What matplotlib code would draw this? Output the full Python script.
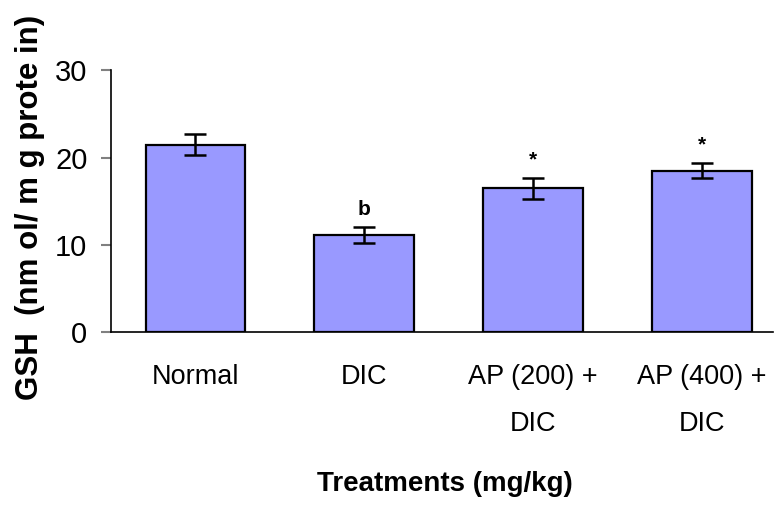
import matplotlib
matplotlib.use("Agg")
import matplotlib.pyplot as plt

# valores
tratamientos = ["Normal", "DIC", "AP (200) +\nDIC", "AP (400) +\nDIC"]
gsh = [21.5, 11.1, 16.5, 18.5]
error = [1.2, 0.9, 1.2, 0.85]
marcas = ["", "b", "*", "*"]

plt.rcParams['font.family'] = ['Liberation Sans', 'DejaVu Sans']

fig = plt.figure(figsize=(7.74, 5.07), dpi=100)
ax = fig.add_axes([0.1434, 0.345, 0.855, 0.516])

x = range(len(tratamientos))
ax.bar(x, gsh, width=0.59, color='#9999FF', edgecolor='black', linewidth=1.6,
       yerr=error, capsize=8, error_kw=dict(elinewidth=1.8, capthick=1.8, ecolor='black'))

for i, (v, e, m) in enumerate(zip(gsh, error, marcas)):
    if m:
        ax.text(i, v + e + 1.0, m, ha='center', va='bottom', fontsize=15,
                fontweight='bold')

ax.set_ylim(0, 30)
ax.set_xlim(-0.5, 3.42)
ax.set_yticks([0, 10, 20, 30])
ax.set_xticks(list(x))
ax.set_xticklabels(tratamientos, fontsize=19.5, linespacing=2.05)
ax.tick_params(axis='y', labelsize=21, length=7, width=1.5, color='#808080', direction='out', pad=10)
ax.tick_params(axis='x', length=0, pad=23)

for lado in ['top', 'right']:
    ax.spines[lado].set_visible(False)
ax.spines['left'].set_linewidth(1.2)
ax.spines['bottom'].set_linewidth(1.2)

ax.set_ylabel('GSH  (nm ol/ m g prote in)', fontsize=22.5, fontweight='bold', va='center')
ax.yaxis.set_label_coords(-0.122, 0.477)
ax.set_xlabel('Treatments (mg/kg)', fontsize=20, fontweight='bold', va='center')
ax.xaxis.set_label_coords(0.505, -0.58)

plt.savefig('out.png', dpi=100)
